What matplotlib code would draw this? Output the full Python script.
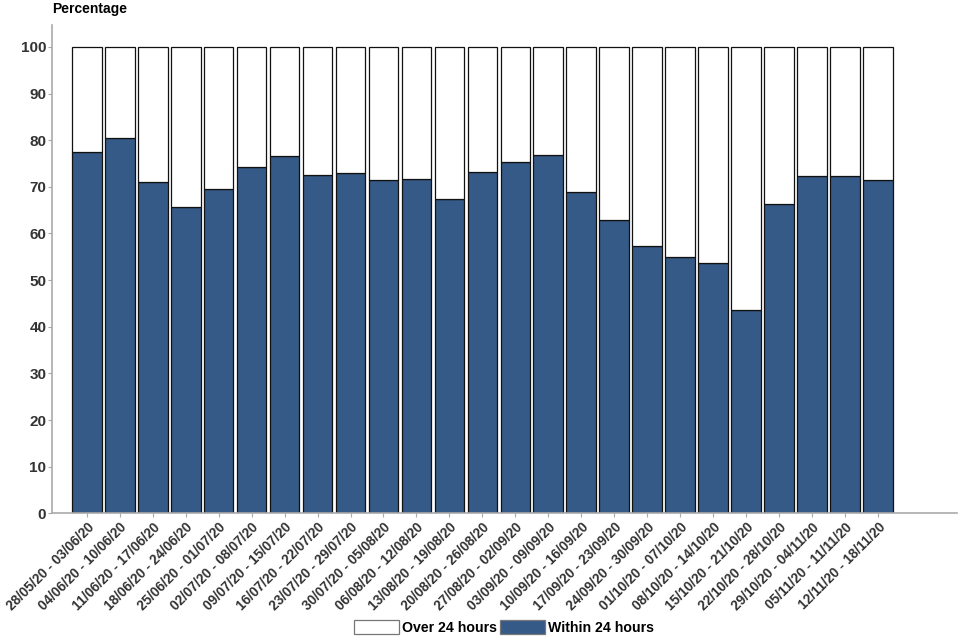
import matplotlib
matplotlib.use("Agg")
import matplotlib.pyplot as plt
import numpy as np

plt.rcParams["font.family"] = ["Liberation Sans", "DejaVu Sans"]

weeks = [
    "28/05/20 - 03/06/20", "04/06/20 - 10/06/20", "11/06/20 - 17/06/20",
    "18/06/20 - 24/06/20", "25/06/20 - 01/07/20", "02/07/20 - 08/07/20",
    "09/07/20 - 15/07/20", "16/07/20 - 22/07/20", "23/07/20 - 29/07/20",
    "30/07/20 - 05/08/20", "06/08/20 - 12/08/20", "13/08/20 - 19/08/20",
    "20/08/20 - 26/08/20", "27/08/20 - 02/09/20", "03/09/20 - 09/09/20",
    "10/09/20 - 16/09/20", "17/09/20 - 23/09/20", "24/09/20 - 30/09/20",
    "01/10/20 - 07/10/20", "08/10/20 - 14/10/20", "15/10/20 - 21/10/20",
    "22/10/20 - 28/10/20", "29/10/20 - 04/11/20", "05/11/20 - 11/11/20",
    "12/11/20 - 18/11/20",
]
within_24h = [
    77.5, 80.5, 71.0, 65.7, 69.6, 74.3, 76.5, 72.6, 73.0, 71.5, 71.7, 67.4,
    73.2, 75.4, 76.8, 68.8, 62.9, 57.3, 54.9, 53.7, 43.6, 66.3, 72.4, 72.3, 71.5,
]
over_24h = [100 - v for v in within_24h]

BLUE = "#365a87"
TXT = "#333333"

fig = plt.figure(figsize=(9.6, 6.4), dpi=100)
ax = fig.add_axes([0.054, 0.198, 0.943, 0.763])

x = np.arange(len(weeks))
ax.bar(x, within_24h, width=0.9, color=BLUE, edgecolor="#111111",
       linewidth=0.9, label="Within 24 hours", zorder=2)
ax.bar(x, over_24h, width=0.9, bottom=within_24h, color="white",
       edgecolor="#111111", linewidth=0.9, label="Over 24 hours", zorder=2)

ax.set_xlim(-1.06, 26.4)
ax.set_ylim(0, 104.7)
ax.set_yticks(range(0, 101, 10))
ax.set_xticks(x)
ax.set_xticklabels(weeks, rotation=45, ha="right", rotation_mode="anchor",
                   fontsize=9.8, fontweight="bold", color=TXT)
for lab in ax.get_yticklabels():
    lab.set_fontweight("bold")
    lab.set_fontsize(11)
    lab.set_color(TXT)

for s in ["top", "right"]:
    ax.spines[s].set_visible(False)
for s in ["left", "bottom"]:
    ax.spines[s].set_color("#aaaaaa")
    ax.spines[s].set_linewidth(1.2)
ax.tick_params(axis="both", colors="#aaaaaa", length=3, labelcolor=TXT)
ax.tick_params(axis="y", pad=1)
ax.tick_params(axis="x", pad=2)

fig.text(0.054, 0.997, "Percentage", fontsize=10, fontweight="bold",
         ha="left", va="top", color="black")

handles, labels = ax.get_legend_handles_labels()
leg = fig.legend(handles[::-1], labels[::-1], loc="lower center",
                 bbox_to_anchor=(0.525, -0.012), ncol=2, frameon=False,
                 handlelength=3.2, handleheight=1.1, handletextpad=0.2,
                 columnspacing=0.2, prop={"weight": "bold", "size": 10.2})
for h in leg.legend_handles:
    h.set_edgecolor("#777777")

fig.savefig("out.png", dpi=100)
